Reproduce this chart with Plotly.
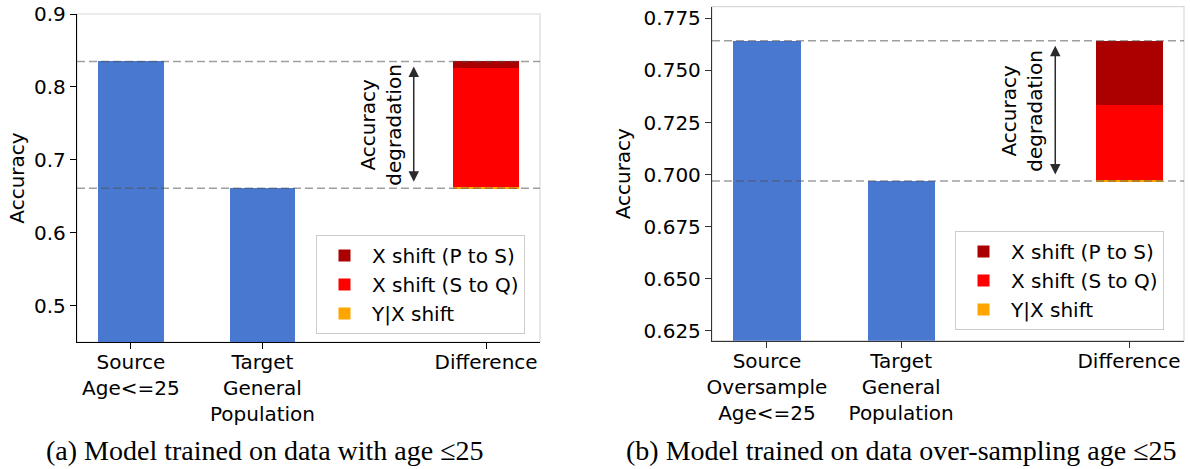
import plotly.graph_objects as go

# ---------------- data ----------------
positions = [0, 1, 2.7]
labels_a = ["Source<br>Age&lt;=25", "Target<br>General<br>Population", "Difference"]
labels_b = ["Source<br>Oversample<br>Age&lt;=25", "Target<br>General<br>Population", "Difference"]

source_a = 0.835
target_a = 0.661
yx_shift_a = 0.001
x_shift_sq_a = 0.164
x_shift_ps_a = 0.009

source_b = 0.7643
target_b = 0.6969
yx_shift_b = 0.0005
x_shift_sq_b = 0.0360
x_shift_ps_b = 0.0309

yticks_a = [0.5, 0.6, 0.7, 0.8, 0.9]
yticks_b = [0.625, 0.650, 0.675, 0.700, 0.725, 0.750, 0.775]

captions = ["(a) Model trained on data with age ≤25",
            "(b) Model trained on data over-sampling age ≤25"]

series_names = ["Y|X shift", "X shift (S to Q)", "X shift (P to S)"]
series_colors = ["#FFA500", "#FF0000", "#AA0000"]
legend_ranks = [3, 2, 1]

BLUE = "#4878CF"
FONT = "DejaVu Sans"
FS = 20

fig = go.Figure()


def add_panel(xa, ya, legend, source, target, parts):
    fig.add_trace(go.Bar(x=positions[:2], y=[source, target], width=0.5,
                         marker=dict(color=BLUE, line=dict(width=0)),
                         showlegend=False, xaxis=xa, yaxis=ya, hoverinfo="skip"))
    base = target
    for name, color, val, rank in zip(series_names, series_colors, parts, legend_ranks):
        fig.add_trace(go.Bar(x=[positions[2]], y=[val], base=[base], width=0.5,
                             name=name, legendgroup=name + legend, legendrank=rank,
                             marker=dict(color=color, line=dict(width=0)),
                             xaxis=xa, yaxis=ya, legend=legend))
        base += val


add_panel("x", "y", "legend", source_a, target_a,
          [yx_shift_a, x_shift_sq_a, x_shift_ps_a])
add_panel("x2", "y2", "legend2", source_b, target_b,
          [yx_shift_b, x_shift_sq_b, x_shift_ps_b])

W, H = 1190, 469


def px(v):
    return min(1.0, max(0.0, v / W))


def py(v):
    return min(1.0, max(0.0, 1 - v / H))


dom_a_x = [px(77), px(540)]
dom_a_y = [py(342), py(14)]
dom_b_x = [px(712), px(1184)]
dom_b_y = [py(340.7), py(6.7)]

axis_common = dict(showline=True, linewidth=1.3, ticks="outside", ticklen=6,
                   tickwidth=1.2, showgrid=False, zeroline=False, automargin=False,
                   ticklabeloverflow="allow",
                   tickfont=dict(family=FONT, size=FS, color="black"))

legend_common = dict(xanchor="left", yanchor="top",
                     traceorder="grouped", tracegroupgap=0,
                     bgcolor="rgba(255,255,255,0.8)", bordercolor="#CCCCCC",
                     borderwidth=1, itemwidth=45,
                     font=dict(family=FONT, size=FS, color="black"))

fig.update_layout(
    width=W, height=H, margin=dict(l=0, r=0, t=0, b=0, autoexpand=False),
    paper_bgcolor="white", plot_bgcolor="white",
    barmode="overlay", bargap=0,
    font=dict(family=FONT, size=FS, color="black"),
    xaxis=dict(domain=dom_a_x, range=[-0.41, 3.11], tickvals=positions,
               ticktext=labels_a, linecolor="black", tickcolor="black",
               anchor="y", ticklabelstandoff=-4, **axis_common),
    yaxis=dict(domain=dom_a_y, range=[0.45, 0.9], tickvals=yticks_a,
               tickformat=".1f", linecolor="black", tickcolor="black",
               anchor="x",
               title=dict(text="Accuracy", font=dict(family=FONT, size=FS), standoff=4),
               **axis_common),
    xaxis2=dict(domain=dom_b_x, range=[-0.41, 3.11], tickvals=positions,
                ticktext=labels_b, linecolor="#333333", tickcolor="#333333",
                anchor="y2", ticklabelstandoff=-4, **axis_common),
    yaxis2=dict(domain=dom_b_y, range=[0.6203, 0.7806], tickvals=yticks_b,
                tickformat=".3f", linecolor="#333333", tickcolor="#333333",
                anchor="x2",
                title=dict(text="Accuracy", font=dict(family=FONT, size=FS), standoff=7),
                **axis_common),
    legend=dict(x=px(316), y=py(235), **legend_common),
    legend2=dict(x=px(955), y=py(231), **legend_common),
)

shapes = []
annotations = []
for xa, ya, source, target in [("x", "y", source_a, target_a),
                               ("x2", "y2", source_b, target_b)]:
    # light top/right frame
    shapes.append(dict(type="rect", xref=f"{xa} domain", yref=f"{ya} domain",
                       x0=0, x1=1, y0=0, y1=1, layer="below",
                       line=dict(color="#D9D9D9", width=1.2)))
    for v in (source, target):
        shapes.append(dict(type="line", xref=f"{xa} domain", yref=ya,
                           x0=0, x1=1, y0=v, y1=v, layer="above",
                           line=dict(color="rgba(80,80,80,0.55)", width=1.5,
                                     dash="8px,4px")))
    annotations.append(dict(x=2.15, y=source, ax=2.15, ay=target,
                            xref=xa, yref=ya, axref=xa, ayref=ya, text="",
                            showarrow=True, arrowside="end+start",
                            arrowhead=2, startarrowhead=2, arrowsize=1.4,
                            startarrowsize=1.4, arrowwidth=1.5,
                            arrowcolor="#2b2b2b", standoff=5, startstandoff=5))
    annotations.append(dict(x=1.9, y=(source + target) / 2, xref=xa, yref=ya,
                            text="Accuracy<br>degradation", textangle=-90,
                            showarrow=False,
                            font=dict(family=FONT, size=FS, color="black")))

for cx, txt in zip([265, 901], captions):
    annotations.append(dict(x=px(cx), y=py(450), xref="paper", yref="paper",
                            xanchor="center", yanchor="middle", text=txt,
                            showarrow=False,
                            font=dict(family="Liberation Serif", size=28, color="black")))

fig.update_layout(shapes=shapes, annotations=annotations)
# remove the browser's default 8px page margin so the figure fills the window
fig.write_html("out.html", config={"displayModeBar": False},
               post_script="document.body.style.margin='0';document.body.style.overflow='hidden';")
